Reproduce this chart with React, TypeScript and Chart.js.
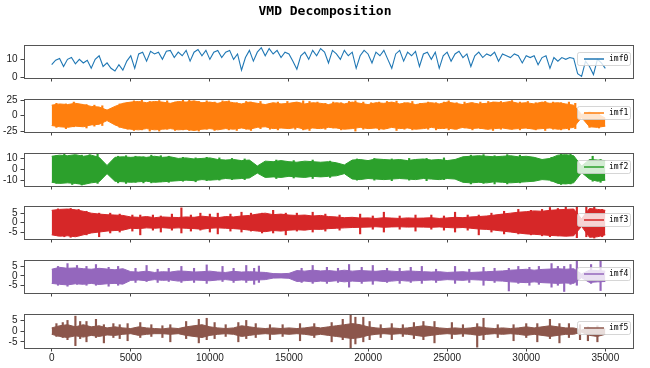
import React, { useEffect, useRef } from "react";
import { Chart, registerables } from "chart.js";

Chart.register(...registerables);

// ---------- text ----------
const TITLE = "VMD Decomposition";
const labels = ["imf0", "imf1", "imf2", "imf3", "imf4", "imf5"];

// ---------- x axis ----------
const xTicks = [0, 5000, 10000, 15000, 20000, 25000, 30000, 35000];
const X_MIN = -1750;
const X_MAX = 36750;

// ---------- y axes ----------
const yTicks = [
  [0, 10],
  [-25, 0, 25],
  [-10, 0, 10],
  [-5, 0, 5],
  [-5, 0, 5],
  [-5, 0, 5],
];
const yRanges = [
  [-0.4, 18],
  [-26.5, 27],
  [-15.4, 15],
  [-8.7, 8.8],
  [-9.1, 8.4],
  [-7.9, 8.0],
];

// ---------- imf0 : line, one value every 250 samples ----------
const imf0Step = 250;
const imf0 = [
  7, 9.5, 10.5, 6, 10, 11, 7.5, 10, 8, 9.5,
  5, 10, 12, 6, 8, 5, 3.5, 7, 4, 9,
  12, 5, 13, 14, 9, 14.5, 13, 14, 10, 14.5,
  15, 11, 14, 12, 15, 9, 14, 15.5, 12, 15,
  10, 14, 15, 11, 14, 15, 10, 13, 4, 11,
  15, 9, 14, 16.5, 12, 16, 13, 15, 11, 14,
  13, 9, 4.5, 12, 14, 10, 15, 12, 16, 14,
  8, 15, 13, 10, 15, 12, 14, 5, 12, 15,
  13, 8, 14, 12, 15, 10, 5, 13, 15, 9,
  14, 12, 14.5, 6, 13, 14, 10, 14, 5, 12,
  14, 9, 13, 14.5, 11, 13, 6, 12, 14, 11,
  13, 12, 14, 9, 13, 12, 11, 13, 12, 8,
  12, 11, 12, 7, 11, 12, 5, 11, 9, 11,
  10, 11, 10.5, 2, 0.5, 9, 6, 1.5, 10, 8,
  5,
];

// ---------- imf1..imf5 : envelopes, one value every 500 samples ----------
const envStep = 500;

const imf1Hi = [
  17, 19, 18, 20, 18, 15, 14, 9, 15, 20,
  22, 23, 21, 23, 22, 20, 23, 22, 24, 21,
  22, 20, 23, 21, 19, 22, 20, 18, 21, 19,
  20, 22, 19, 21, 20, 18, 21, 19, 22, 20,
  18, 21, 20, 22, 19, 21, 18, 20, 21, 19,
  22, 20, 18, 21, 19, 20, 22, 21, 23, 20,
  21, 19, 22, 20, 21, 19, 17, 2, 5, 3,
  -4,
];
const imf1Lo = [
  -16, -18, -19, -17, -18, -15, -14, -8, -15, -20,
  -22, -23, -21, -23, -22, -21, -23, -22, -24, -22,
  -21, -23, -21, -22, -20, -22, -19, -18, -21, -20,
  -21, -19, -22, -20, -21, -19, -20, -22, -21, -19,
  -21, -20, -22, -19, -21, -20, -22, -21, -19, -21,
  -20, -22, -19, -21, -20, -22, -21, -20, -22, -21,
  -20, -22, -21, -20, -22, -21, -19, -3, -18, -19,
  -17,
];
const imf1Spikes = [
  [300, -19, 20], [900, -21, 19], [1400, -18, 22], [2200, -20, 18], [2700, -17, 17],
  [3200, -16, 16], [4300, -19, 19], [4800, -22, 21], [5200, -24, 24], [5700, -23, 25],
  [6200, -25, 23], [6800, -25, 24.5], [7300, -22, 24], [7800, -24, 22], [8300, -23, 25],
  [8700, -24, 25], [9300, -25, 23], [9800, -22, 24], [10300, -24, 22], [10800, -21, 24],
  [11200, -23, 24], [11700, -24, 21], [12300, -22, 23], [12600, -24, 22], [13200, -21, 23],
  [13800, -22, 20], [14300, -23, 22], [14900, -20, 23], [15400, -22, 21], [15900, -23, 24],
  [16300, -24, 23], [16800, -21, 22], [17300, -22, 20], [17800, -20, 22], [18300, -23, 21],
  [18800, -21, 23], [19200, -25, 24], [19700, -22, 22], [20200, -20, 21], [20700, -23, 22],
  [21200, -21, 23], [21800, -24, 23.5], [22300, -22, 21], [22800, -23, 23], [23300, -21, 20],
  [23800, -22, 22], [24300, -23, 21], [24800, -21, 22], [25100, -23, 24], [25600, -22, 21],
  [26100, -20, 22], [26600, -23, 21], [27100, -21, 22], [27600, -22, 23], [27900, -24, 22],
  [28400, -22, 23], [29100, -22, 24.5], [29600, -23, 22], [30100, -21, 23], [30600, -23, 21],
  [31200, -24, 23], [31700, -22, 22], [32200, -23, 21], [32700, -23, 22], [33100, -21, 20],
  [34000, -19, 6], [34600, -20, 4],
];

const imf2Hi = [
  12, 13, 12.5, 13.5, 12, 13, 11, 3.5, 11, 11.5,
  11, 11.5, 11, 12, 11, 11.5, 10, 10.5, 9.5, 10,
  10.5, 9, 8.5, 9, 8, 8.5, 3, 7.5, 7, 8,
  7, 6.5, 7.5, 7, 6.5, 7, 6, 4, 8.5, 9,
  8, 9.5, 9, 8.5, 9, 8, 9, 9.5, 8.5, 9,
  8, 9, 11.5, 12, 12.5, 12, 11.5, 12, 12.5, 11.5,
  12, 11, 9, 10, 13, 13.5, 12.5, 3, 9, 8.5,
  8,
];
const imf2Lo = [
  -12, -13, -12.5, -13, -14, -12.5, -11.5, -4, -11, -11.5,
  -12, -11.5, -11, -12, -11.5, -11, -10.5, -10, -10.5, -9.5,
  -10, -9.5, -8.5, -9, -8.5, -8, -3.5, -7.5, -7, -7.5,
  -6.5, -7, -7.5, -6.5, -7, -6.5, -6, -4, -9, -9.5,
  -8.5, -9, -9.5, -9, -8.5, -9, -9.5, -8.5, -9, -9.5,
  -8.5, -9, -12, -12.5, -12, -12.5, -11.5, -12, -12.5, -12,
  -11.5, -11, -9.5, -10, -13, -13.5, -12.5, -3, -9, -11,
  -10,
];
const imf2Spikes = [
  [300, -13, 12.5], [800, -12, 13.8], [1300, -14, 12], [1900, -14.5, 13], [2400, -12, 13.5],
  [2900, -13, 14], [4200, -12.5, 12], [4700, -13, 12.5], [5300, -12, 12], [5800, -12.5, 11.5],
  [6300, -12.5, 13], [6900, -11.5, 12.5], [7400, -12, 12], [8300, -11, 11], [9100, -11.5, 10.5],
  [9800, -10.5, 11], [10600, -10, 10.5], [11400, -9.5, 10], [12200, -9.5, 9.5], [14200, -8.5, 8.5],
  [15300, -8, 8], [16500, -8.5, 8.5], [17600, -7.5, 7.5], [19300, -10, 9.5], [20400, -10, 10],
  [21500, -10.5, 9.5], [22600, -10, 10], [23700, -10.5, 10], [24800, -9.5, 10.5], [26500, -13.5, 13],
  [27300, -13, 13.5], [28000, -13.5, 12.5], [28800, -13.5, 13.5], [29600, -12.5, 13], [31600, -11, 11],
  [32200, -14, 14.5], [32800, -13.5, 14.5], [34200, -11, 12], [34700, -12, 9],
];

const imf3Hi = [
  6.5, 7, 7.2, 6.8, 6, 5, 4.5, 4.2, 4, 3.8,
  3, 2.8, 3.2, 2.6, 3, 2.8, 2.7, 3, 2.8, 3.4,
  3, 2.6, 3.2, 3, 3.5, 3.8, 4.5, 5, 4.2, 4.5,
  4, 3.8, 4, 3.5, 3.8, 3.2, 3, 2.6, 2.8, 2.4,
  2.5, 2.2, 2.6, 2.4, 2.2, 2.5, 2.3, 2.4, 2.6, 2.2,
  2.5, 2.8, 2.6, 3, 3.2, 3.5, 4, 4.5, 5, 5.5,
  5.8, 6.2, 6, 6.5, 6.8, 7, 7.2, 2, 7.5, 7,
  6.5,
];
const imf3Lo = [
  -6.5, -7.2, -7, -7.5, -6.5, -5.5, -5, -4.5, -4.2, -4,
  -3, -3.2, -2.8, -3, -2.7, -3, -2.8, -3, -3.2, -3.5,
  -3, -2.8, -3, -3.2, -3.5, -4, -4.5, -4.8, -4.2, -4.5,
  -4, -3.8, -4, -3.5, -3.6, -3.2, -3, -2.8, -2.6, -2.5,
  -2.4, -2.2, -2.5, -2.3, -2.2, -2.4, -2.3, -2.4, -2.5, -2.3,
  -2.6, -2.8, -2.6, -3, -3.4, -3.6, -4, -4.5, -5, -5.5,
  -6, -6.2, -6.5, -6.8, -7, -7.2, -7, -2, -7.8, -7.5,
  -6.5,
];
const imf3Spikes = [
  [400, -7, 7.3], [800, -7.5, 6.5], [1200, -7.8, 7.5], [1700, -7, 7], [2200, -6.5, 6],
  [3000, -7.5, 5], [3700, -5.5, 5], [4300, -5, 4.5], [5100, -4.5, 4], [5600, -6.5, 4],
  [6400, -4, 4], [6900, -5, 3.5], [7600, -4, 4.5], [8200, -5.5, 7.8], [8800, -4.5, 4],
  [9400, -4, 5], [10000, -5, 4.5], [10500, -6, 5], [11300, -4.5, 4.5], [12000, -5, 5.5],
  [12600, -4.5, 5], [13300, -5.5, 5], [14000, -5.5, 6.5], [14800, -6.5, 5], [15500, -4.5, 5],
  [16500, -5, 5.5], [17300, -4.5, 4.5], [18200, -4, 4], [19500, -6, 4.5], [20300, -3.5, 3.5],
  [21000, -5, 5.5], [22000, -3.5, 3.5], [23000, -4.5, 4], [24000, -3.5, 4], [24800, -4, 3.5],
  [25500, -5, 5.5], [26300, -4, 4], [27000, -6.5, 4], [27800, -5, 5], [28600, -6, 6],
  [29500, -6, 7], [30300, -6.5, 6.5], [31000, -7, 7], [31500, -7.5, 8], [32000, -7, 7.5],
  [32500, -7, 8.2], [33200, -8, 8.5], [33800, -7.5, 8.4], [34300, -8.2, 8.3], [34800, -7.5, 7],
];

const imf4Hi = [
  3.5, 4.5, 4, 4.2, 3.8, 3.5, 4, 3.6, 3.2, 3.8,
  2.2, 2, 2.5, 1.8, 2.2, 2, 2.6, 2.4, 2, 2.2,
  2.5, 2, 1.8, 2.4, 2, 2.2, 2, 1.8, 1.2, 1.1,
  1.3, 2.8, 2.5, 3, 2.6, 2.8, 2.4, 3, 2.5, 2.8,
  2.6, 2.4, 2.8, 2.5, 2.2, 2.6, 2.4, 2.2, 2, 2.2,
  1.8, 2, 2.2, 1.8, 2, 2.2, 2.4, 2.6, 3, 3.2,
  3.5, 3, 3.4, 3.6, 3.8, 3.5, 3.8, 1, 3, 2.8,
  2.5,
];
const imf4Lo = [
  -4, -4.5, -4.8, -4.2, -4.5, -4, -4.6, -4.2, -4, -4.4,
  -2.4, -2.2, -2.6, -2, -2.4, -2.2, -2.8, -2.5, -2.2, -2.4,
  -2.6, -2.2, -2, -2.5, -2.2, -2.4, -2.2, -2, -1.2, -1.1,
  -1.3, -3, -2.8, -3.2, -2.8, -3, -2.6, -3.2, -2.8, -3,
  -2.8, -2.6, -3, -2.8, -2.4, -2.8, -2.6, -2.4, -2.2, -2.4,
  -2, -2.2, -2.4, -2, -2.2, -2.4, -2.6, -2.8, -3.2, -3.4,
  -3.6, -3.2, -3.6, -3.8, -4, -3.8, -4, -1, -3.5, -3.2,
  -3,
];
const imf4Spikes = [
  [400, -5, 5], [1000, -5.5, 6.5], [1600, -4.5, 5.5], [2200, -5, 5], [2800, -5, 6],
  [3600, -5.5, 4.5], [4200, -5, 5], [5300, -3.5, 4], [6000, -3, 5.5], [6700, -3.5, 3.5],
  [7400, -3, 4], [8200, -3.5, 5], [9000, -3.5, 4], [9800, -4, 5.8], [10800, -3, 5],
  [11500, -3.5, 4], [12300, -3.5, 5.5], [12800, -4.5, 4], [13100, -3.5, 5.2], [15800, -3.5, 4],
  [16500, -4, 5.5], [17400, -4, 4.5], [18100, -3.5, 4], [18800, -6, 6], [19600, -4, 4.5],
  [20300, -4.5, 5.5], [21200, -3.5, 4], [22000, -4, 4], [22700, -3.5, 4.5], [23400, -4, 5],
  [24300, -3.5, 3.5], [25500, -4, 5], [26400, -3.5, 3.5], [27300, -5, 4.5], [28000, -3.5, 4],
  [28900, -8, 4], [29500, -4, 5], [30200, -5, 4.5], [30800, -4.5, 5], [31600, -6, 6.5],
  [32000, -5, 5], [32400, -8.3, 5], [32800, -4.5, 6], [33200, -5, 8], [34100, -4, 6],
  [34700, -7.8, 9.5],
];

const imf5Hi = [
  1.5, 2.5, 3, 2, 3, 2, 2.5, 1.5, 2, 1.5,
  1.2, 2, 1.5, 1.2, 1, 1.5, 1.2, 2, 2.5, 3,
  2, 1.5, 1.2, 1.5, 2.5, 2, 1.5, 1.2, 1.5, 1.2,
  1.5, 1.2, 1.5, 2, 1.5, 2, 2.5, 3, 3.5, 3,
  2, 1.5, 1.2, 1.5, 1.2, 1.5, 2, 2.5, 2, 1.5,
  1.2, 1.5, 1.2, 1.5, 2, 1.5, 1.2, 1.5, 1.2, 1.5,
  2, 1.5, 2, 2.5, 2, 1.5, 1.5, 0.5, 1.5, 1,
  1,
];
const imf5Lo = [
  -1.5, -2.5, -3, -2.2, -2.8, -2, -2.5, -1.8, -2, -1.5,
  -1.2, -2, -1.5, -1.2, -1.2, -1.5, -1.2, -2, -2.5, -3,
  -2, -1.5, -1.2, -1.5, -2.5, -2, -1.5, -1.2, -1.5, -1.2,
  -1.5, -1.2, -1.5, -2, -1.5, -2, -2.5, -3, -3.5, -3,
  -2, -1.5, -1.2, -1.5, -1.2, -1.5, -2, -2.5, -2, -1.5,
  -1.2, -1.5, -1.2, -1.5, -2, -1.5, -1.2, -1.5, -1.2, -1.5,
  -2, -1.5, -2, -2.5, -2, -1.5, -1.5, -0.5, -2, -2.5,
  -1.5,
];
const imf5Spikes = [
  [300, -2.5, 3.5], [700, -3, 4], [1000, -4, 5], [1500, -6.8, 7], [1800, -3.5, 4.5],
  [2200, -5, 4.5], [2800, -3, 5.5], [3300, -5.5, 3], [3900, -3, 3.5], [4300, -3.5, 3],
  [4800, -4.5, 3.5], [5600, -3, 4], [6300, -2.5, 3], [7000, -3, 2.5], [7500, -5, 3],
  [8500, -3.5, 4.5], [9300, -5.5, 5.5], [9800, -4, 6], [10300, -3.5, 4], [11000, -2.5, 3],
  [11800, -5, 4], [12300, -3.5, 5], [12900, -3, 3.5], [13800, -4, 3], [14600, -2.5, 3],
  [15700, -4.5, 3.5], [16600, -3, 3.5], [17700, -5, 4], [18400, -4, 5.5], [18900, -7.8, 7.8],
  [19200, -6, 6.5], [19700, -5, 6.5], [20100, -4, 4.5], [20800, -3, 3], [21500, -4, 3.5],
  [22200, -2.5, 3], [22900, -3.5, 4], [23500, -4, 4.5], [24200, -5.5, 4.5], [25300, -3.5, 4],
  [26000, -2.5, 3], [26900, -7.5, 3.5], [27300, -4, 6], [28200, -3, 3], [29200, -4.5, 3],
  [30000, -3, 3.5], [30700, -5, 3.5], [31500, -3.5, 5.5], [32100, -5.5, 3.5], [32700, -3, 3.5],
  [33400, -4, 3], [33900, -4.5, 2], [34500, -5, 2.5],
];

// ---------- styles ----------
const COLORS = ["#1f77b4", "#ff7f0e", "#2ca02c", "#d62728", "#9467bd", "#8c564b"];
const W = 650;
const AX_TOPS = [44, 98, 152, 205, 259, 313];
const AX_H = 35;
const PAD_TOP = 8;
const AX_LEFT = 24;
const AX_RIGHT = 633;
const TICK_FONT = { family: "'Liberation Sans', Arial, sans-serif", size: 10 };
const MONO = "'DejaVu Sans Mono', 'Liberation Mono', monospace";

const bands: [number[], number[], number[][]][] = [
  [imf1Hi, imf1Lo, imf1Spikes],
  [imf2Hi, imf2Lo, imf2Spikes],
  [imf3Hi, imf3Lo, imf3Spikes],
  [imf4Hi, imf4Lo, imf4Spikes],
  [imf5Hi, imf5Lo, imf5Spikes],
];

function bottomH(i: number) {
  return i === 5 ? 20 : 8;
}

function framePlugin(label: string, color: string) {
  return {
    id: "frameLegend" + label,
    afterDraw(chart: any) {
      const { ctx, chartArea } = chart;
      const l = Math.round(chartArea.left);
      const t = Math.round(chartArea.top);
      const r = Math.round(chartArea.right);
      const b = Math.round(chartArea.bottom);
      ctx.save();
      // spines
      ctx.strokeStyle = "#555";
      ctx.lineWidth = 1;
      ctx.strokeRect(l + 0.5, t + 0.5, r - l, b - t);
      // legend
      const lw = 53;
      const lh = 13;
      const lx = r - 3 - lw;
      const ly = t + 7;
      ctx.beginPath();
      ctx.roundRect(lx + 0.5, ly + 0.5, lw, lh, 2);
      ctx.fillStyle = "rgba(255,255,255,0.8)";
      ctx.fill();
      ctx.strokeStyle = "rgba(204,204,204,0.8)";
      ctx.stroke();
      const cy = ly + lh / 2 + 0.5;
      ctx.beginPath();
      ctx.moveTo(lx + 7, cy);
      ctx.lineTo(lx + 27, cy);
      ctx.strokeStyle = color;
      ctx.lineWidth = 1.5;
      ctx.stroke();
      ctx.fillStyle = "#000";
      ctx.font = `8px ${MONO}`;
      ctx.textBaseline = "middle";
      ctx.textAlign = "left";
      ctx.fillText(label, lx + 32, cy);
      ctx.restore();
    },
  };
}

function makeConfig(i: number): any {
  const color = COLORS[i];
  let datasets: any[];
  if (i === 0) {
    datasets = [
      {
        type: "line",
        data: imf0.map((v, k) => ({ x: k * imf0Step, y: v })),
        borderColor: color,
        borderWidth: 1.1,
        pointRadius: 0,
        fill: false,
        tension: 0,
      },
    ];
  } else {
    const [hi, lo, spikes] = bands[i - 1];
    datasets = [
      {
        type: "line",
        data: hi.map((v, k) => ({ x: k * envStep, y: v })),
        borderColor: color,
        borderWidth: 1,
        pointRadius: 0,
        fill: false,
        tension: 0,
      },
      {
        type: "line",
        data: lo.map((v, k) => ({ x: k * envStep, y: v })),
        borderColor: color,
        borderWidth: 1,
        pointRadius: 0,
        fill: "-1",
        backgroundColor: color,
        tension: 0,
      },
      {
        type: "bar",
        data: spikes.map(([x, a, b]) => ({ x, y: [a, b] })),
        backgroundColor: color,
        borderWidth: 0,
        barThickness: 1.5,
        grouped: false,
      },
    ];
  }
  const bh = bottomH(i);
  const gridOpts = {
    display: true,
    offset: false,
    drawOnChartArea: false,
    drawTicks: true,
    tickLength: 3.5,
    color: "#444",
    lineWidth: 1,
  };
  return {
    type: "line",
    data: { datasets },
    options: {
      responsive: false,
      animation: false,
      events: [],
      layout: { padding: { top: PAD_TOP, left: 0, right: W - AX_RIGHT, bottom: 0 } },
      plugins: {
        legend: { display: false },
        tooltip: { enabled: false },
        title: { display: false },
      },
      scales: {
        x: {
          type: "linear",
          bounds: "data",
          offset: false,
          min: X_MIN,
          max: X_MAX,
          afterBuildTicks: (s: any) => {
            s.ticks = xTicks.map((v) => ({ value: v }));
          },
          afterFit: (s: any) => {
            s.height = bh;
          },
          grid: gridOpts,
          border: { display: false },
          ticks: {
            display: i === 5,
            font: TICK_FONT,
            color: "#222",
            padding: 1,
            maxRotation: 0,
            autoSkip: false,
            callback: (v: any) => String(v),
          },
        },
        y: {
          type: "linear",
          bounds: "data",
          offset: false,
          min: yRanges[i][0],
          max: yRanges[i][1],
          afterBuildTicks: (s: any) => {
            s.ticks = yTicks[i].map((v) => ({ value: v }));
          },
          afterFit: (s: any) => {
            s.width = AX_LEFT;
          },
          grid: gridOpts,
          border: { display: false },
          ticks: {
            font: TICK_FONT,
            color: "#222",
            padding: 3,
            autoSkip: false,
            callback: (v: any) => String(v),
          },
        },
      },
    },
    plugins: [framePlugin(labels[i], color)],
  };
}

export default function App() {
  const titleRef = useRef<HTMLCanvasElement | null>(null);
  const refs = useRef<(HTMLCanvasElement | null)[]>([]);

  useEffect(() => {
    const charts: Chart[] = [];
    if (titleRef.current) {
      charts.push(
        new Chart(titleRef.current, {
          type: "line",
          data: { datasets: [] },
          options: {
            responsive: false,
            animation: false,
            events: [],
            plugins: {
              legend: { display: false },
              tooltip: { enabled: false },
              title: {
                display: true,
                text: TITLE,
                color: "#000",
                font: { family: MONO, size: 13, weight: "bold" },
                padding: { top: 4, bottom: 2 },
              },
            },
            scales: { x: { display: false }, y: { display: false } },
          },
        } as any)
      );
    }
    for (let i = 0; i < 6; i++) {
      const c = refs.current[i];
      if (c) charts.push(new Chart(c, makeConfig(i)));
    }
    return () => charts.forEach((c) => c.destroy());
  }, []);

  return (
    <div
      style={{
        position: "absolute",
        left: 0,
        top: 0,
        width: W,
        height: 368,
        background: "#fff",
        overflow: "hidden",
      }}
    >
      <canvas
        ref={titleRef}
        width={W}
        height={30}
        style={{ position: "absolute", left: 0, top: 0, width: W, height: 30 }}
      />
      {labels.map((lab, i) => {
        const h = PAD_TOP + AX_H + bottomH(i);
        return (
          <canvas
            key={lab}
            ref={(el) => {
              refs.current[i] = el;
            }}
            width={W}
            height={h}
            style={{
              position: "absolute",
              left: 0,
              top: AX_TOPS[i] - PAD_TOP,
              width: W,
              height: h,
            }}
          />
        );
      })}
    </div>
  );
}
